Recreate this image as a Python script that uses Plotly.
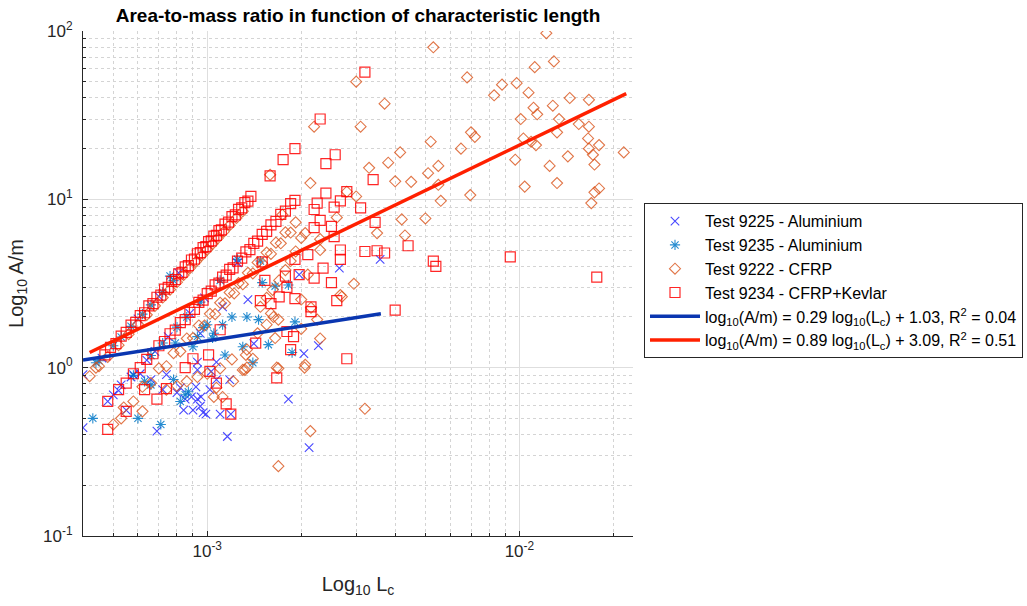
import plotly.graph_objects as go

# ---------------- data ----------------
# Test 9225 - Aluminium (blue x)
al1_lc = [4.0e-4, 4.0e-4, 4.6e-4, 4.8e-4, 5.0e-4, 5.2e-4, 5.3e-4, 5.5e-4, 5.7e-4, 5.8e-4,
          6.0e-4, 6.1e-4, 6.4e-4, 6.6e-4, 6.8e-4, 6.9e-4, 7.0e-4, 7.2e-4, 7.4e-4, 7.5e-4,
          8.0e-4, 8.1e-4, 8.2e-4, 8.4e-4, 8.5e-4, 8.8e-4, 8.9e-4, 9.0e-4, 9.2e-4, 9.3e-4,
          9.3e-4, 9.5e-4, 9.55e-4, 9.7e-4, 9.8e-4, 9.9e-4, 1.02e-3, 1.03e-3, 1.07e-3, 1.07e-3,
          1.10e-3, 1.12e-3, 1.16e-3, 1.18e-3, 1.19e-3, 1.25e-3, 1.35e-3, 1.41e-3, 1.82e-3, 1.97e-3,
          2.04e-3, 2.12e-3, 2.27e-3, 2.65e-3, 3.58e-3, 9.3e-4, 9.5e-4]
al1_am = [0.44, 0.91, 1.14, 0.63, 0.69, 0.73, 0.79, 0.56, 0.88, 0.91,
          1.95, 0.92, 1.11, 0.85, 1.25, 0.42, 2.65, 0.74, 0.91, 1.53,
          0.71, 3.66, 0.76, 0.56, 0.65, 2.10, 0.67, 0.56, 0.77, 0.97,
          0.65, 0.59, 0.67, 0.54, 2.60, 0.53, 0.74, 0.95, 0.85, 1.08,
          0.53, 2.30, 0.39, 0.85, 0.53, 4.20, 2.54, 1.39, 0.65, 3.57,
          1.21, 0.335, 1.35, 3.90, 4.40, 1.08, 1.60]

# Test 9235 - Aluminium (asterisk)
al2_lc = [4.3e-4, 4.4e-4, 4.5e-4, 5.0e-4, 5.3e-4, 5.7e-4, 5.8e-4, 6.0e-4, 6.2e-4, 6.3e-4,
          6.6e-4, 6.6e-4, 6.6e-4, 7.1e-4, 7.2e-4, 7.2e-4, 7.6e-4, 7.8e-4, 7.8e-4, 7.9e-4,
          8.0e-4, 8.2e-4, 8.5e-4, 8.6e-4, 8.7e-4, 9.0e-4, 9.3e-4, 9.5e-4, 9.7e-4, 1.0e-3,
          1.04e-3, 1.05e-3, 1.10e-3, 1.12e-3, 1.14e-3, 1.20e-3, 1.25e-3, 1.30e-3, 1.34e-3, 1.40e-3,
          1.46e-3, 1.48e-3, 1.50e-3, 1.57e-3, 1.65e-3, 1.82e-3, 1.87e-3, 1.91e-3]
al2_am = [0.50, 1.07, 1.10, 1.35, 1.52, 1.76, 0.90, 0.50, 2.08, 0.83,
          0.79, 1.18, 2.36, 0.46, 1.40, 2.80, 3.50, 0.85, 3.29, 1.40,
          1.74, 0.63, 0.69, 2.00, 0.72, 1.33, 1.53, 2.45, 1.73, 1.80,
          1.50, 1.60, 3.30, 1.80, 1.19, 2.00, 4.40, 1.33, 2.00, 1.07,
          1.93, 4.30, 3.20, 1.37, 3.05, 3.10, 1.23, 1.87]

# Test 9222 - CFRP (diamonds)
cfrp_lc = [
    # first diagonal band
    4.2e-4, 4.5e-4, 4.8e-4, 5.2e-4, 5.6e-4, 6.0e-4, 6.4e-4, 6.8e-4, 7.2e-4, 7.6e-4,
    8.0e-4, 8.4e-4, 8.8e-4, 9.2e-4, 9.6e-4, 1.00e-3, 1.04e-3, 1.08e-3, 1.13e-3, 1.18e-3,
    1.24e-3, 1.30e-3,
    # third diagonal band
    5.0e-4, 5.4e-4, 5.8e-4, 6.2e-4, 6.6e-4, 7.0e-4, 7.4e-4, 7.8e-4, 8.2e-4, 8.6e-4,
    9.0e-4, 9.4e-4, 9.8e-4, 1.02e-3, 1.06e-3, 1.10e-3, 1.14e-3, 1.18e-3, 1.22e-3, 1.26e-3,
    1.30e-3, 1.35e-3, 1.40e-3, 1.45e-3, 1.50e-3, 1.55e-3, 1.60e-3, 1.66e-3, 1.72e-3, 1.78e-3,
    1.85e-3, 1.92e-3,
    # fourth band
    8.0e-4, 9.3e-4, 1.0e-3, 1.1e-3, 1.2e-3, 1.34e-3, 1.45e-3, 1.55e-3, 1.63e-3, 1.48e-3,
    1.55e-3, 1.62e-3, 1.70e-3, 1.78e-3, 1.85e-3, 1.92e-3, 2.0e-3,
    # lower left
    5.3e-4, 6.2e-4, 7.4e-4, 8.6e-4, 1.05e-3, 4.4e-4, 1.12e-3, 1.30e-3, 1.33e-3, 1.07e-3,
    1.67e-3, 2.06e-3, 1.21e-3, 1.34e-3,
    # middle
    3.0e-3, 3.7e-3, 3.1e-3, 2.2e-3, 3.8e-3, 3.3e-3, 4.0e-3, 2.14e-3, 2.8e-3, 3.0e-3,
    3.5e-3, 2.6e-3, 2.0e-3, 2.95e-3, 2.7e-3, 2.15e-3, 2.3e-3, 1.59e-3, 1.74e-3, 2.06e-3,
    2.3e-3, 2.1e-3, 1.6e-3, 1.69e-3, 2.25e-3, 2.0e-3, 2.3e-3, 1.65e-3, 1.4e-3, 1.32e-3,
    1.69e-3, 2.05e-3, 3.2e-3, 2.14e-3, 1.69e-3, 2.67e-3,
    # upper right
    0.0122, 0.0053, 0.0068, 0.0112, 0.0129, 0.0083, 0.0088, 0.0098, 0.0107, 0.0111,
    0.0114, 0.0128, 0.0145, 0.0167, 0.0134, 0.0101, 0.0155, 0.0167, 0.0132, 0.0166,
    0.0180, 0.0167, 0.0216, 0.0103, 0.0109, 0.0113, 0.0143, 0.0172, 0.0052, 0.0065,
    0.0070, 0.0072, 0.00415, 0.0055, 0.0051, 0.0045, 0.0055, 0.0056, 0.00696, 0.0042,
    0.0050, 0.0043, 0.0097, 0.0104, 0.0125, 0.0132, 0.0174, 0.0174, 0.0180, 0.0170]
cfrp_am = [
    0.89, 1.02, 1.16, 1.36, 1.58, 1.81, 2.06, 2.33, 2.61, 2.91,
    3.22, 3.55, 3.90, 4.26, 4.64, 5.03, 5.44, 5.87, 6.42, 7.01,
    7.74, 8.50,
    0.46, 0.58, 0.63, 0.77, 0.81, 0.99, 1.02, 1.22, 1.25, 1.49,
    1.50, 1.78, 1.78, 2.09, 2.08, 2.43, 2.41, 2.80, 2.76, 3.18,
    3.13, 3.66, 3.63, 4.22, 4.17, 4.83, 4.74, 5.53, 5.48, 6.36,
    6.35, 7.30,
    0.78, 0.88, 0.92, 0.99, 1.12, 1.28, 1.60, 1.80, 2.00, 2.30,
    2.60, 2.90, 3.30, 3.80, 4.30, 4.90, 2.54,
    0.50, 0.55, 0.74, 0.83, 0.67, 1.00, 0.67, 0.97, 1.19, 0.76,
    1.00, 1.04, 0.83, 1.00,
    50.0, 37.0, 27.0, 27.0, 16.5, 15.4, 12.8, 12.5, 11.1, 10.4,
    6.3, 7.8, 5.9, 3.15, 2.64, 2.27, 5.0, 14.0, 8.1, 6.3,
    5.8, 3.57, 2.1, 1.93, 1.93, 1.70, 1.49, 1.50, 1.13, 0.97,
    0.99, 1.00, 0.57, 0.42, 0.26, 2.70,
    97.0, 80.0, 53.0, 61.0, 66.0, 41.5, 48.0, 49.0, 43.0, 35.0,
    32.0, 36.0, 40.0, 39.0, 30.0, 30.0, 28.0, 27.0, 25.0, 23.0,
    21.0, 20.0, 19.0, 23.0, 22.0, 21.0, 18.0, 18.4, 22.0, 20.0,
    25.0, 23.5, 19.0, 15.8, 14.3, 12.7, 12.2, 9.8, 10.6, 7.6,
    7.7, 6.1, 17.2, 11.9, 15.8, 12.5, 16.1, 11.0, 11.6, 9.5]

# Test 9234 - CFRP+Kevlar (squares)
kev_lc = [
    # first diagonal band
    4.7e-4, 4.9e-4, 5.1e-4, 5.3e-4, 5.5e-4, 5.7e-4, 5.9e-4, 6.1e-4, 6.3e-4, 6.5e-4,
    6.7e-4, 6.9e-4, 7.1e-4, 7.3e-4, 7.5e-4, 7.7e-4, 7.9e-4, 8.1e-4, 8.3e-4, 8.5e-4,
    8.7e-4, 8.9e-4, 9.1e-4, 9.3e-4, 9.5e-4, 9.7e-4, 9.9e-4, 1.01e-3, 1.03e-3, 1.05e-3,
    1.07e-3, 1.09e-3, 1.11e-3, 1.14e-3, 1.17e-3, 1.20e-3, 1.23e-3, 1.26e-3, 1.29e-3, 1.32e-3,
    1.35e-3, 1.38e-3,
    # second diagonal band
    4.8e-4, 5.2e-4, 5.5e-4, 5.8e-4, 6.1e-4, 6.4e-4, 6.7e-4, 7.0e-4, 7.3e-4, 7.6e-4,
    7.9e-4, 8.2e-4, 8.5e-4, 8.8e-4, 9.1e-4, 9.4e-4, 9.7e-4, 1.00e-3, 1.03e-3, 1.06e-3,
    1.09e-3, 1.12e-3, 1.15e-3, 1.18e-3, 1.21e-3, 1.25e-3, 1.29e-3, 1.33e-3, 1.37e-3, 1.41e-3,
    1.45e-3, 1.50e-3, 1.55e-3, 1.60e-3, 1.66e-3, 1.72e-3, 1.78e-3, 1.85e-3, 1.91e-3,
    # scattered
    4.8e-4, 5.5e-4, 6.3e-4, 6.9e-4, 7.4e-4, 8.5e-4, 9.0e-4, 1.01e-3, 1.02e-3, 1.07e-3,
    1.10e-3, 1.15e-3, 1.19e-3, 1.43e-3, 1.67e-3, 1.85e-3, 1.89e-3, 1.80e-3, 2.80e-3, 2.15e-3,
    2.15e-3, 1.91e-3, 1.70e-3, 1.48e-3, 1.60e-3, 2.60e-3, 4.0e-3, 2.5e-3, 2.2e-3, 2.35e-3,
    1.78e-3, 1.97e-3, 1.80e-3, 1.53e-3, 1.50e-3, 1.91e-3, 2.10e-3, 2.67e-3, 2.67e-3, 3.2e-3,
    3.5e-3, 3.7e-3, 4.4e-3, 5.3e-3, 5.4e-3, 9.35e-3, 0.0177, 2.55e-3, 2.2e-3, 2.5e-3,
    2.3e-3, 3.45e-3, 2.2e-3, 2.55e-3, 3.1e-3, 2.25e-3, 2.67e-3, 2.4e-3, 2.8e-3, 3.4e-3,
    1.59e-3, 2.4e-3, 2.57e-3, 1.75e-3, 1.91e-3, 2.3e-3, 3.2e-3]
kev_am = [
    1.19, 1.32, 1.39, 1.54, 1.62, 1.79, 1.86, 2.04, 2.12, 2.33,
    2.40, 2.62, 2.70, 2.93, 3.00, 3.26, 3.34, 3.61, 3.68, 3.97,
    4.04, 4.36, 4.42, 4.75, 4.82, 5.17, 5.23, 5.60, 5.67, 6.05,
    6.11, 6.52, 6.58, 7.12, 7.33, 7.90, 8.08, 8.72, 8.90, 9.55,
    9.76, 10.4,
    0.63, 0.74, 0.81, 0.92, 1.00, 1.12, 1.21, 1.35, 1.43, 1.59,
    1.67, 1.85, 1.93, 2.13, 2.22, 2.44, 2.52, 2.75, 2.85, 3.10,
    3.18, 3.45, 3.55, 3.84, 3.92, 4.30, 4.47, 4.87, 5.03, 5.48,
    5.65, 6.20, 6.45, 7.05, 7.40, 8.15, 8.50, 9.42, 9.85,
    0.43, 0.55, 0.74, 0.65, 0.75, 1.00, 1.13, 1.19, 0.95, 0.81,
    1.68, 0.61, 0.53, 1.40, 0.87, 1.28, 1.53, 1.64, 1.13, 2.15,
    2.30, 2.57, 2.63, 2.50, 2.40, 2.50, 2.20, 3.20, 3.40, 3.90,
    3.50, 3.57, 3.00, 3.30, 4.25, 4.40, 4.70, 4.40, 5.00, 4.90,
    4.95, 4.80, 5.30, 4.30, 4.00, 4.55, 3.45, 6.00, 6.80, 6.90,
    7.50, 7.30, 8.70, 9.00, 8.90, 9.50, 9.80, 10.9, 11.1, 13.1,
    13.8, 16.3, 18.4, 17.2, 20.0, 30.0, 57.0]

# Regression lines (end points)
fit_al_lc = [4.0e-4, 3.6e-3]
fit_al_am = [1.11, 2.09]
fit_cf_lc = [4.2e-4, 0.022]
fit_cf_am = [1.23, 42.5]

names = ["Test 9225 - Aluminium", "Test 9235 - Aluminium", "Test 9222 - CFRP",
         "Test 9234 - CFRP+Kevlar",
         "log<sub>10</sub>(A/m) = 0.29 log<sub>10</sub>(L<sub>c</sub>) + 1.03, R<sup>2</sup> = 0.04",
         "log<sub>10</sub>(A/m) = 0.89 log<sub>10</sub>(L<sub>c</sub>) + 3.09, R<sup>2</sup> = 0.51"]

x_ticks = [1e-3, 1e-2]
x_ticktext = ["10<sup>-3</sup>", "10<sup>-2</sup>"]
y_ticks = [0.1, 1, 10, 100]
y_ticktext = ["10<sup>-1</sup>", "10<sup>0</sup>", "10<sup>1</sup>", "10<sup>2</sup>"]
x_minor = [4e-4, 5e-4, 6e-4, 7e-4, 8e-4, 9e-4, 2e-3, 3e-3, 4e-3, 5e-3, 6e-3, 7e-3, 8e-3, 9e-3, 2e-2]
y_minor = [0.2, 0.3, 0.4, 0.5, 0.6, 0.7, 0.8, 0.9, 2, 3, 4, 5, 6, 7, 8, 9,
           20, 30, 40, 50, 60, 70, 80, 90]

# ---------------- figure ----------------
FONT = "Liberation Sans, Arial, Helvetica, sans-serif"
AX = "#262626"

fig = go.Figure()
fig.add_trace(go.Scatter(x=al1_lc, y=al1_am, mode="markers", name=names[0],
                         marker=dict(symbol="x-thin-open", size=8.5, color="rgba(40,40,255,0.85)",
                                     line=dict(width=1.1, color="rgba(40,40,255,0.85)"))))
fig.add_trace(go.Scatter(x=al2_lc, y=al2_am, mode="markers", name=names[1],
                         marker=dict(symbol="asterisk-open", size=8.5, color="rgba(0,120,200,0.85)",
                                     line=dict(width=1.1, color="rgba(0,120,200,0.85)"))))
fig.add_trace(go.Scatter(x=cfrp_lc, y=cfrp_am, mode="markers", name=names[2],
                         marker=dict(symbol="diamond-open", size=8.5, color="rgba(217,83,25,0.8)",
                                     line=dict(width=1.1, color="rgba(217,83,25,0.8)"))))
fig.add_trace(go.Scatter(x=kev_lc, y=kev_am, mode="markers", name=names[3],
                         marker=dict(symbol="square-open", size=10, color="rgba(255,0,0,0.85)",
                                     line=dict(width=1.2, color="rgba(255,0,0,0.85)"))))
fig.add_trace(go.Scatter(x=fit_al_lc, y=fit_al_am, mode="lines", name=names[4],
                         line=dict(color="#0a36b0", width=3.5)))
fig.add_trace(go.Scatter(x=fit_cf_lc, y=fit_cf_am, mode="lines", name=names[5],
                         line=dict(color="#ff2000", width=3.5)))

axis_common = dict(
    showline=True, linecolor=AX, linewidth=1, mirror=False,
    ticks="inside", ticklen=5, tickcolor=AX, tickwidth=1,
    showgrid=True, gridcolor="#dedede", gridwidth=1,
    tickfont=dict(family=FONT, size=17, color=AX),
    tickmode="array",
)

fig.update_layout(
    width=1027, height=606,
    margin=dict(l=83, r=394, t=31, b=70, autoexpand=False),
    paper_bgcolor="white", plot_bgcolor="white",
    font=dict(family=FONT, color=AX),
    title=dict(text="<b>Area-to-mass ratio in function of characteristic length</b>",
               x=0.5, xref="paper", xanchor="center", y=0.975, yref="container", yanchor="middle",
               font=dict(family=FONT, size=19, color="black")),
    xaxis=dict(type="log", range=[-3.398, -1.636], tickvals=x_ticks, ticktext=x_ticktext,
               title=dict(text="Log<sub>10</sub> L<sub>c</sub>", font=dict(family=FONT, size=20, color=AX),
                          standoff=16),
               minor=dict(tickmode="array", tickvals=x_minor, ticks="inside", ticklen=3,
                          tickcolor=AX, showgrid=True, gridcolor="#d4d4d4", griddash="dot", gridwidth=1),
               **axis_common),
    yaxis=dict(type="log", range=[-1, 2], tickvals=y_ticks, ticktext=y_ticktext,
               ticklabelstandoff=6,
               title=dict(text="Log<sub>10</sub> A/m", font=dict(family=FONT, size=20, color=AX),
                          standoff=14),
               minor=dict(tickmode="array", tickvals=y_minor, ticks="inside", ticklen=3,
                          tickcolor=AX, showgrid=True, gridcolor="#d4d4d4", griddash="dot", gridwidth=1),
               **axis_common),
    legend=dict(x=1.02, xanchor="left", y=0.659, yanchor="top",
                bgcolor="white", bordercolor=AX, borderwidth=1,
                font=dict(family=FONT, size=16, color="black"),
                itemwidth=50, tracegroupgap=0),
    showlegend=True,
)

fig.write_html("out.html")
